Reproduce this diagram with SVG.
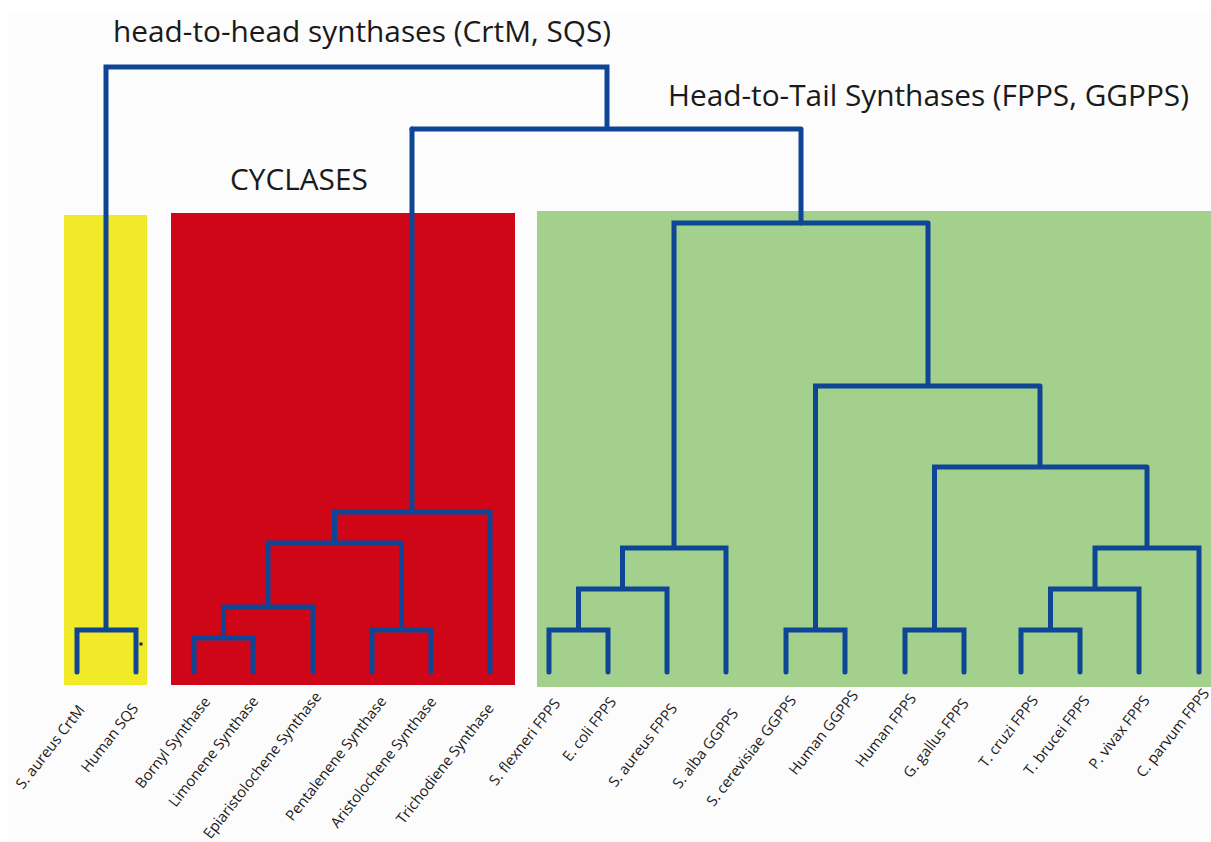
<svg xmlns="http://www.w3.org/2000/svg" width="1211" height="842" viewBox="0 0 1211 842">
<style>
.title{font-family:"Open Sans","Liberation Sans",sans-serif;font-size:29.8px;fill:#1a1a1a}
.lbl{font-family:"Open Sans","Liberation Sans",sans-serif;font-size:14.8px;fill:#1a1a1a;text-anchor:end}
.tree{fill:none;stroke:#0e4595;stroke-width:5;stroke-linecap:round;stroke-linejoin:miter}
</style>
<rect x="0" y="0" width="1211" height="842" fill="#ffffff"/>
<rect x="8" y="13" width="1203" height="829" fill="#fcfcfc"/>
<g id="cluster-headtohead"><rect x="64" y="215" width="83" height="470" fill="#f0ea28"/></g>
<g id="cluster-cyclases"><rect x="171" y="213" width="344" height="472" fill="#cf0618"/></g>
<g id="cluster-headtotail"><rect x="537" y="211" width="674" height="476" fill="#a3d08c"/></g>
<g id="titles">
<text class="title" x="113" y="42">head-to-head synthases (CrtM, SQS)</text>
<text class="title" x="668" y="106">Head-to-Tail Synthases (FPPS, GGPPS)</text>
<text class="title" x="230" y="190">CYCLASES</text>
</g>
<g id="connectors">
<path class="tree" d="M77,672 V630 H136 V672 M106,630 V67 H607 V129 M412,129 H801 M801,129 V223"/>
<path class="tree" d="M194,672 V638 H253 V672 M223.5,638 V607 H313 V672 M268,607 V543 H401.5 M372,672 V630 H431 V672 M401.5,630 V543 M334.5,543 V512 H490 V672 M412,512 V129"/>
<path class="tree" d="M549,672 V630 H608 V672 M578.5,630 V589 H667 V672 M622.5,589 V548 H726 V672 M674,548 V223 H928 M786,672 V630 H845 V672 M815.5,630 V386 H1040 M905,672 V630 H964 V672 M934.5,630 V467 H1147 M1021,672 V630 H1080 V672 M1050.5,630 V589 H1139 V672 M1095,589 V548 H1199 V672 M1147,548 V467 M1040,467 V386 M928,386 V223"/>
<rect x="139.5" y="642.5" width="3" height="3" fill="#222"/>
</g>
<g id="leaf-s-aureus-crtm"><text class="lbl" transform="translate(85.5,710) rotate(-52)">S. aureus CrtM</text></g>
<g id="leaf-human-sqs"><text class="lbl" transform="translate(139,708.5) rotate(-52)">Human SQS</text></g>
<g id="leaf-bornyl"><text class="lbl" transform="translate(211,702) rotate(-52)">Bornyl Synthase</text></g>
<g id="leaf-limonene"><text class="lbl" transform="translate(259,701.5) rotate(-52)">Limonene Synthase</text></g>
<g id="leaf-epiaristolochene"><text class="lbl" transform="translate(322,697) rotate(-52)">Epiaristolochene Synthase</text></g>
<g id="leaf-pentalenene"><text class="lbl" transform="translate(387,701.5) rotate(-52)">Pentalenene Synthase</text></g>
<g id="leaf-aristolochene"><text class="lbl" transform="translate(437,702) rotate(-52)">Aristolochene Synthase</text></g>
<g id="leaf-trichodiene"><text class="lbl" transform="translate(494.5,708.5) rotate(-52)">Trichodiene Synthase</text></g>
<g id="leaf-s-flexneri"><text class="lbl" transform="translate(561,703.5) rotate(-52)">S. flexneri FPPS</text></g>
<g id="leaf-e-coli"><text class="lbl" transform="translate(617,702) rotate(-52)">E. coli FPPS</text></g>
<g id="leaf-s-aureus-fpps"><text class="lbl" transform="translate(678,708.5) rotate(-52)">S. aureus FPPS</text></g>
<g id="leaf-s-alba"><text class="lbl" transform="translate(739,713.5) rotate(-52)">S. alba GGPPS</text></g>
<g id="leaf-s-cerevisiae"><text class="lbl" transform="translate(797,700.5) rotate(-52)">S. cerevisiae GGPPS</text></g>
<g id="leaf-human-ggpps"><text class="lbl" transform="translate(859,695.5) rotate(-52)">Human GGPPS</text></g>
<g id="leaf-human-fpps"><text class="lbl" transform="translate(917,698.5) rotate(-52)">Human FPPS</text></g>
<g id="leaf-g-gallus"><text class="lbl" transform="translate(969.5,703.5) rotate(-52)">G. gallus FPPS</text></g>
<g id="leaf-t-cruzi"><text class="lbl" transform="translate(1039,700.5) rotate(-52)">T. cruzi FPPS</text></g>
<g id="leaf-t-brucei"><text class="lbl" transform="translate(1090.5,700.5) rotate(-52)">T. brucei FPPS</text></g>
<g id="leaf-p-vivax"><text class="lbl" transform="translate(1150.5,700.5) rotate(-52)">P. vivax FPPS</text></g>
<g id="leaf-c-parvum"><text class="lbl" transform="translate(1210,693.5) rotate(-52)">C. parvum FPPS</text></g>
</svg>
